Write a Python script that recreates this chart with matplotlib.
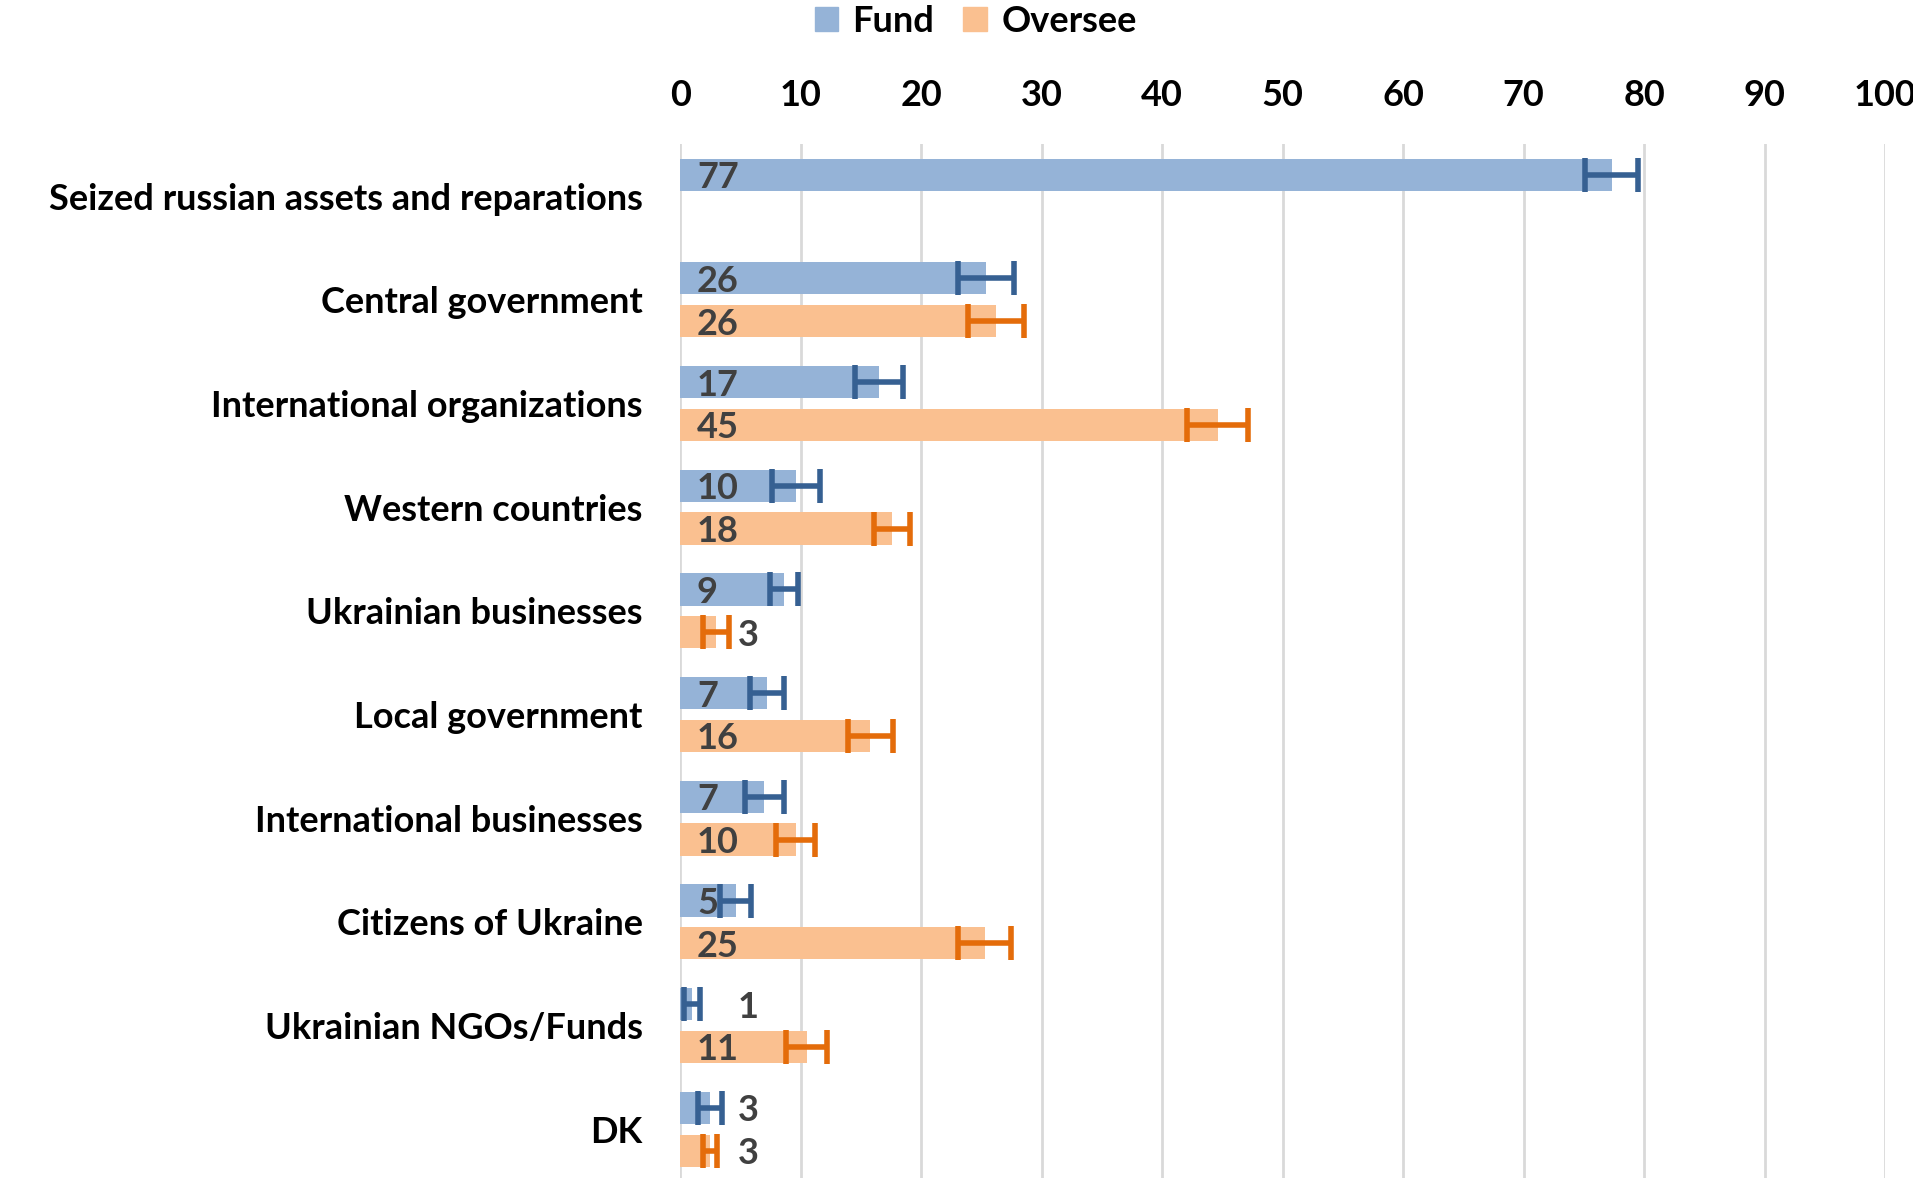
import numpy as np
import matplotlib.pyplot as plt
from matplotlib.patches import Patch

plt.rcParams['font.family'] = ['Lato', 'DejaVu Sans']

# Data
categories = ['Seized russian assets and reparations', 'Central government',
              'International organizations', 'Western countries',
              'Ukrainian businesses', 'Local government', 'International businesses',
              'Citizens of Ukraine', 'Ukrainian NGOs/Funds', 'DK']
fund = [77.3, 25.4, 16.5, 9.6, 8.6, 7.2, 7.0, 4.6, 1.0, 2.5]
fund_err = [2.2, 2.3, 2.0, 2.0, 1.15, 1.4, 1.6, 1.25, 0.65, 1.0]
fund_labels = ['77', '26', '17', '10', '9', '7', '7', '5', '1', '3']
oversee = [np.nan, 26.2, 44.6, 17.6, 3.0, 15.8, 9.6, 25.3, 10.5, 2.5]
oversee_err = [np.nan, 2.3, 2.5, 1.5, 1.1, 1.9, 1.6, 2.2, 1.7, 0.6]
oversee_labels = ['', '26', '45', '18', '3', '16', '10', '25', '11', '3']

fund_color = '#95B3D7'
fund_err_color = '#366092'
oversee_color = '#FAC090'
oversee_err_color = '#E46C0A'
label_color = '#404040'
fs = 26

fig = plt.figure(figsize=(19.13, 11.78), dpi=100)
ax = fig.add_axes([0.3555, 0.0, 0.630, 0.878])

y = np.arange(len(categories))
off = 0.206
h = 0.31

ax.barh(y - off, fund, height=h, color=fund_color, zorder=2)
ax.barh(y + off, oversee, height=h, color=oversee_color, zorder=2)
ax.errorbar(fund, y - off, xerr=fund_err, fmt='none', ecolor=fund_err_color,
            elinewidth=4, capsize=12, capthick=4, zorder=3)
ax.errorbar(oversee, y + off, xerr=oversee_err, fmt='none', ecolor=oversee_err_color,
            elinewidth=4, capsize=12, capthick=4, zorder=3)

# data labels: inside the bar near the base, or outside for short bars
for vals, labels, yy in [(fund, fund_labels, y - off), (oversee, oversee_labels, y + off)]:
    for v, lab, yi in zip(vals, labels, yy):
        if not lab:
            continue
        x = 1.4 if v >= 4.5 else 4.8
        ax.text(x, yi, lab, ha='left', va='center_baseline', fontsize=fs, fontweight='bold',
                color=label_color, zorder=4)

ax.set_xlim(0, 100)
ax.set_ylim(len(categories) - 0.53, -0.505)
ax.set_xticks(np.arange(0, 101, 10))
ax.xaxis.tick_top()
ax.tick_params(axis='x', length=0, pad=23, labelsize=fs)
for t in ax.get_xticklabels():
    t.set_fontweight('bold')
ax.set_yticks(y)
ax.set_yticklabels(categories, fontsize=fs, fontweight='bold')
ax.tick_params(axis='y', length=0, pad=27)
ax.grid(axis='x', color='#D9D9D9', linewidth=2, zorder=0)
ax.set_axisbelow(True)
for s in ax.spines.values():
    s.set_visible(False)

handles = [Patch(color=fund_color, label='Fund'), Patch(color=oversee_color, label='Oversee')]
fig.legend(handles=handles, loc='center', bbox_to_anchor=(0.51, 0.982), ncol=2,
           frameon=False, prop={'size': fs, 'weight': 'bold'},
           handlelength=0.65, handleheight=0.65, handletextpad=0.4, columnspacing=0.8)

fig.savefig('out.png', dpi=100)
